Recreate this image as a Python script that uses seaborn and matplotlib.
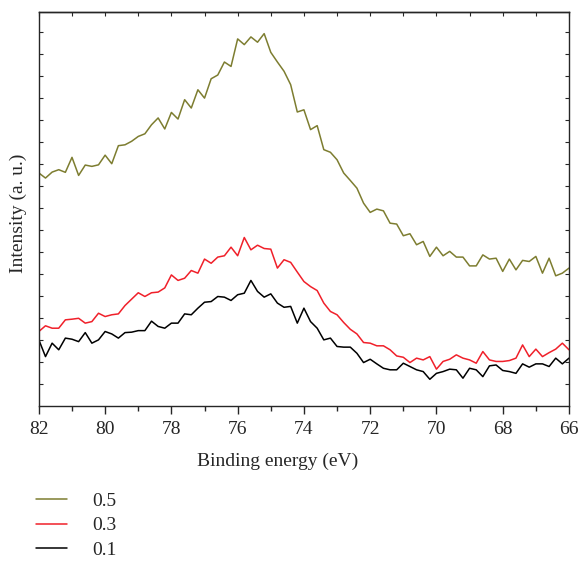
import numpy as np
import pandas as pd
import matplotlib
matplotlib.use('Agg')
import matplotlib.pyplot as plt
import seaborn as sns

# binding energy grid (eV), 82 -> 66 in 0.2 eV steps
energy = np.round(np.linspace(82, 66, 81), 1)

# intensities (arbitrary units)
int_05 = [10.58, 10.35, 10.62, 10.73, 10.61, 11.29, 10.47, 10.94, 10.88, 10.95, 11.39,
          11.00, 11.82, 11.86, 12.02, 12.24, 12.36, 12.77, 13.08, 12.58, 13.33,
          13.03, 13.91, 13.53, 14.36, 13.98, 14.86, 15.03, 15.62, 15.42, 16.67,
          16.41, 16.76, 16.52, 16.91, 16.06, 15.62, 15.20, 14.59, 13.35, 13.45,
          12.55, 12.73, 11.64, 11.52, 11.18, 10.58, 10.24, 9.89, 9.21, 8.79,
          8.94, 8.86, 8.30, 8.26, 7.73, 7.82, 7.32, 7.47, 6.79, 7.21,
          6.82, 7.02, 6.76, 6.76, 6.36, 6.36, 6.86, 6.67, 6.71, 6.11,
          6.67, 6.18, 6.61, 6.56, 6.79, 6.03, 6.71, 5.91, 6.03, 6.26]
int_03 = [3.38, 3.64, 3.53, 3.53, 3.91, 3.94, 3.98, 3.76, 3.83, 4.21, 4.06,
          4.14, 4.18, 4.56, 4.85, 5.14, 4.97, 5.14, 5.17, 5.36, 5.95,
          5.70, 5.80, 6.15, 6.03, 6.67, 6.48, 6.76, 6.82, 7.21, 6.82,
          7.65, 7.09, 7.30, 7.15, 7.12, 6.26, 6.64, 6.52, 6.08, 5.65,
          5.42, 5.24, 4.67, 4.29, 4.14, 3.79, 3.48, 3.27, 2.88, 2.85,
          2.73, 2.73, 2.55, 2.27, 2.21, 1.97, 2.17, 2.09, 2.24, 1.67,
          2.02, 2.12, 2.32, 2.17, 2.09, 1.94, 2.47, 2.09, 2.02, 2.02,
          2.06, 2.17, 2.77, 2.24, 2.58, 2.24, 2.42, 2.58, 2.85, 2.55]
int_01 = [3.00, 2.24, 2.85, 2.55, 3.08, 3.03, 2.92, 3.33, 2.85, 3.00, 3.38,
          3.27, 3.08, 3.33, 3.35, 3.42, 3.42, 3.85, 3.61, 3.53, 3.76,
          3.76, 4.18, 4.14, 4.44, 4.71, 4.74, 4.97, 4.94, 4.79, 5.05,
          5.12, 5.70, 5.20, 4.94, 5.09, 4.67, 4.48, 4.52, 3.76, 4.44,
          3.83, 3.53, 3.00, 3.08, 2.70, 2.67, 2.67, 2.39, 1.97, 2.12,
          1.91, 1.71, 1.64, 1.64, 1.94, 1.79, 1.64, 1.56, 1.21, 1.48,
          1.56, 1.67, 1.64, 1.26, 1.71, 1.64, 1.33, 1.82, 1.86, 1.61,
          1.56, 1.48, 1.91, 1.76, 1.91, 1.91, 1.79, 2.17, 1.91, 2.17]

labels = ['0.5', '0.3', '0.1']
colors = ['#7d7d30', '#f0202a', '#000000']

df = pd.concat([
    pd.DataFrame({'energy': energy, 'intensity': v, 'x': lab})
    for lab, v in zip(labels, [int_05, int_03, int_01])
])

sns.set_style('ticks')
plt.rcParams['font.family'] = ['Liberation Serif', 'DejaVu Serif']
plt.rcParams['font.size'] = 14

fig = plt.figure(figsize=(5.8, 5.63), dpi=100)
ax = fig.add_axes([0.067, 0.279, 0.914, 0.700])

sns.lineplot(data=df, x='energy', y='intensity', hue='x', hue_order=labels,
             palette=dict(zip(labels, colors)), linewidth=1.1, ax=ax,
             estimator=None, sort=False)

ax.set_xlim(82, 66)
ax.set_ylim(0, 17.9)
ax.set_xticks(np.arange(66, 83, 2))
ax.set_xticks(np.arange(66, 83, 1), minor=True)
ax.tick_params(axis='x', which='major', direction='out', length=6, width=1,
               labelsize=14, pad=5)
ax.tick_params(axis='x', which='minor', direction='out', length=3.5, width=1)
ax.set_yticks(np.arange(1, 18))
ax.tick_params(axis='y', direction='in', left=True, right=True, length=3,
               width=0.8, labelleft=False)

top = ax.secondary_xaxis('top')
top.set_xticks(np.arange(66, 83, 1))
top.tick_params(direction='in', length=3, width=0.8, labeltop=False)

for s in ax.spines.values():
    s.set_linewidth(1.0)
    s.set_visible(True)
top.spines['top'].set_linewidth(1.0)

ax.set_xlabel('Binding energy (eV)', fontsize=14)
ax.xaxis.set_label_coords(0.451, -0.118)
ax.set_ylabel('Intensity (a. u.)', fontsize=14)
ax.yaxis.set_label_coords(-0.022, 0.49)

ax.legend(loc='upper left', bbox_to_anchor=(0.062, 0.125),
          bbox_transform=fig.transFigure, frameon=False, fontsize=14,
          handlelength=1.6, handletextpad=1.3, labelspacing=0.34,
          borderpad=0, borderaxespad=0, title=None)

fig.savefig('out.png', dpi=100)
